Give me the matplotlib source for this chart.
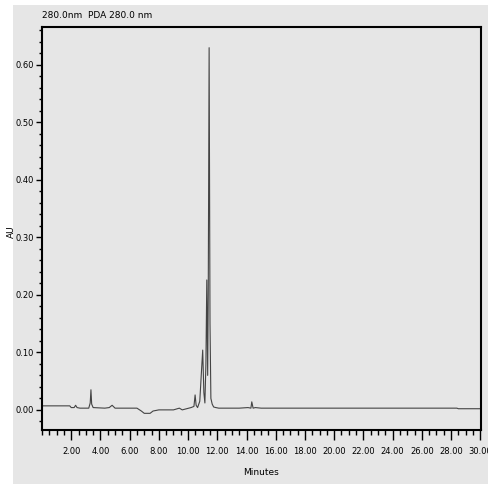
import numpy as np
import matplotlib.pyplot as plt
from matplotlib.patches import Rectangle
from matplotlib.ticker import MultipleLocator, FormatStrFormatter

# Punkter lest av kromatogrammet (minutter, AU)
tid = [0.0, 1.9, 2.0, 2.2, 2.3, 2.4, 2.6, 3.2, 3.3, 3.35, 3.4, 3.5, 4.3, 4.6, 4.8,
       5.0, 6.5, 6.8, 7.0, 7.4, 7.6, 8.0, 9.0, 9.4, 9.6, 10.2, 10.4, 10.48, 10.55,
       10.65, 10.8, 10.9, 11.0, 11.08, 11.15, 11.22, 11.28, 11.34, 11.38, 11.44,
       11.5, 11.56, 11.65, 11.75, 11.9, 12.1, 13.5, 14.1, 14.3, 14.36, 14.45, 14.6,
       15.0, 28.4, 28.5, 30.0]
au = [0.007, 0.007, 0.004, 0.004, 0.008, 0.004, 0.003, 0.003, 0.012, 0.035, 0.010,
      0.004, 0.003, 0.004, 0.008, 0.003, 0.003, -0.002, -0.006, -0.006, -0.002,
      0.000, 0.000, 0.003, 0.000, 0.004, 0.006, 0.026, 0.008, 0.004, 0.015, 0.060,
      0.104, 0.030, 0.012, 0.080, 0.226, 0.060, 0.200, 0.630, 0.150, 0.020, 0.010,
      0.005, 0.004, 0.003, 0.003, 0.004, 0.003, 0.014, 0.003, 0.004, 0.003, 0.003,
      0.002, 0.002]

xticks = [2, 4, 6, 8, 10, 12, 14, 16, 18, 20, 22, 24, 26, 28, 30]
yticks = [0.0, 0.1, 0.2, 0.3, 0.4, 0.5, 0.6]

grå = '#e6e6e6'
fig = plt.figure(figsize=(4.88, 4.84), dpi=100)
fig.patch.set_facecolor('white')
fig.patches.append(Rectangle((13/488, 0), 1, 479/484, transform=fig.transFigure,
                             facecolor=grå, edgecolor='none', zorder=-10))

ax = fig.add_axes([42/488, 1 - 430/484, 439/488, 403/484])
ax.set_facecolor(grå)
ax.plot(tid, au, color='#444444', lw=0.8)

ax.set_xlim(0, 30.05)
ax.set_ylim(-0.035, 0.666)
ax.set_xticks(xticks)
ax.set_yticks(yticks)
ax.xaxis.set_minor_locator(MultipleLocator(0.5))
ax.yaxis.set_minor_locator(MultipleLocator(0.02))
ax.xaxis.set_major_formatter(FormatStrFormatter('%.2f'))
ax.yaxis.set_major_formatter(FormatStrFormatter('%.2f'))
ax.tick_params(which='major', width=1, labelsize=6, direction='out')
ax.tick_params(axis='x', which='major', length=7, pad=5)
ax.tick_params(axis='x', which='minor', length=3.5, width=1)
ax.tick_params(axis='y', which='major', length=4, pad=2)
ax.tick_params(axis='y', which='minor', length=2.5, width=1)
for s in ax.spines.values():
    s.set_linewidth(1.5)

ax.set_xlabel('Minutes', fontsize=6.5, labelpad=9)
fig.text(11/488, 1 - 232/484, 'AU', fontsize=6.5, rotation=90,
         va='center', ha='center')
fig.text(42/488, 1 - 16/484, '280.0nm  PDA 280.0 nm', fontsize=6.5,
         va='center', ha='left')

fig.savefig('out.png', dpi=100)
